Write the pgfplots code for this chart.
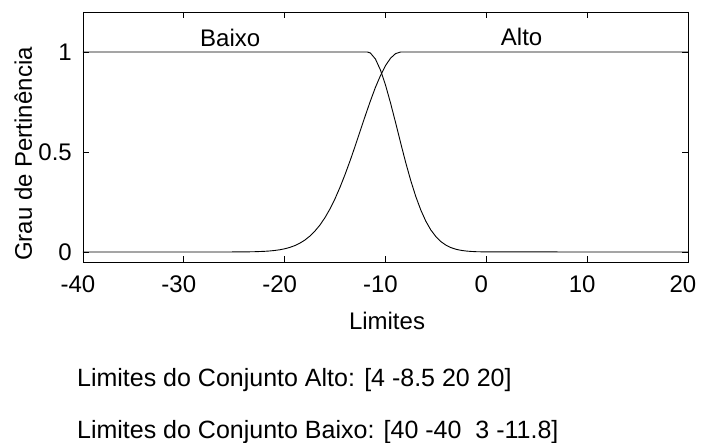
\documentclass[border=0pt]{standalone}
\usepackage{fontspec}
\setmainfont{Liberation Sans}
\usepackage{pgfplots}
\pgfplotsset{compat=1.18}

% gauss2mf [40 -40 3 -11.8]
\pgfplotstableread{
x y
-40 1
-11.8 1
-11.5 0.995
-11 0.965
-10.5 0.910
-10 0.835
-9.5 0.745
-9 0.647
-8.5 0.546
-8 0.448
-7.5 0.358
-7 0.278
-6.5 0.210
-6 0.154
-5.5 0.110
-5 0.0766
-4.5 0.0518
-4 0.0340
-3.5 0.0218
-3 0.0135
-2.5 0.0082
-2 0.0048
-1.5 0.0028
-1 0.0015
0 0.0004
20 0
}\baixo

% gauss2mf [4 -8.5 20 20]
\pgfplotstableread{
x y
-40 0
-26 0.00007
-24 0.00055
-23 0.0014
-22 0.0034
-21.5 0.0051
-21 0.0076
-20.5 0.0111
-20 0.0160
-19.5 0.0228
-19 0.0319
-18.5 0.0439
-18 0.0596
-17.5 0.0796
-17 0.1046
-16.5 0.135
-16 0.172
-15.5 0.216
-15 0.267
-14.5 0.325
-14 0.389
-13.5 0.458
-13 0.531
-12.5 0.607
-12 0.682
-11.5 0.755
-11 0.823
-10.5 0.882
-10 0.932
-9.5 0.969
-9 0.992
-8.5 1
20 1
}\alto

\begin{document}
\fontsize{24bp}{28bp}\selectfont
\begin{tikzpicture}
\path[use as bounding box] (-83bp,-181bp) rectangle (618bp,262bp);
\begin{axis}[
  at={(0,0)}, anchor=south west,
  scale only axis,
  width=605bp, height=250bp,
  xmin=-40, xmax=20,
  ymin=-0.05, ymax=1.2,
  xtick={-40,-30,-20,-10,0,10,20},
  xticklabels={-40,-30,-20,-10,0,10,20},
  ytick={0,0.5,1},
  yticklabels={0,0.5,1},
  tick align=inside,
  major tick length=6bp,
  axis line style={line width=0.9bp},
  every tick/.style={black, line width=0.8bp},
  xticklabel style={anchor=base, inner sep=0pt, yshift=-30.5bp, xshift=-5bp},
  yticklabel style={anchor=east, inner sep=0pt, xshift=-11bp},
  font=\fontsize{24bp}{28bp}\selectfont,
  clip=false,
]
\addplot[black, line width=0.9bp] table[x=x, y=y] {\baixo};
\addplot[black, line width=0.9bp] table[x=x, y=y] {\alto};
\node[anchor=base] at (axis cs:-25.4,1.026) {Baixo};
\node[anchor=base] at (axis cs:3.5,1.033) {Alto};
\node[anchor=base, rotate=90] at (axis cs:-45.06,0.49) {Grau de Pertinência};
\node[anchor=base] at (axis cs:-9.85,-0.05) [yshift=-67bp] {Limites};
\node[anchor=base west, inner sep=0pt, font=\fontsize{25bp}{29bp}\selectfont] at (axis cs:-40.6,-0.05) [yshift=-124bp] {Limites do Conjunto Alto: [4 -8.5 20 20]};
\node[anchor=base west, inner sep=0pt, font=\fontsize{25bp}{29bp}\selectfont] at (axis cs:-40.6,-0.05) [yshift=-176bp] {Limites do Conjunto Baixo: [40 -40\ \ 3 -11.8]};
\end{axis}
\end{tikzpicture}
\end{document}
